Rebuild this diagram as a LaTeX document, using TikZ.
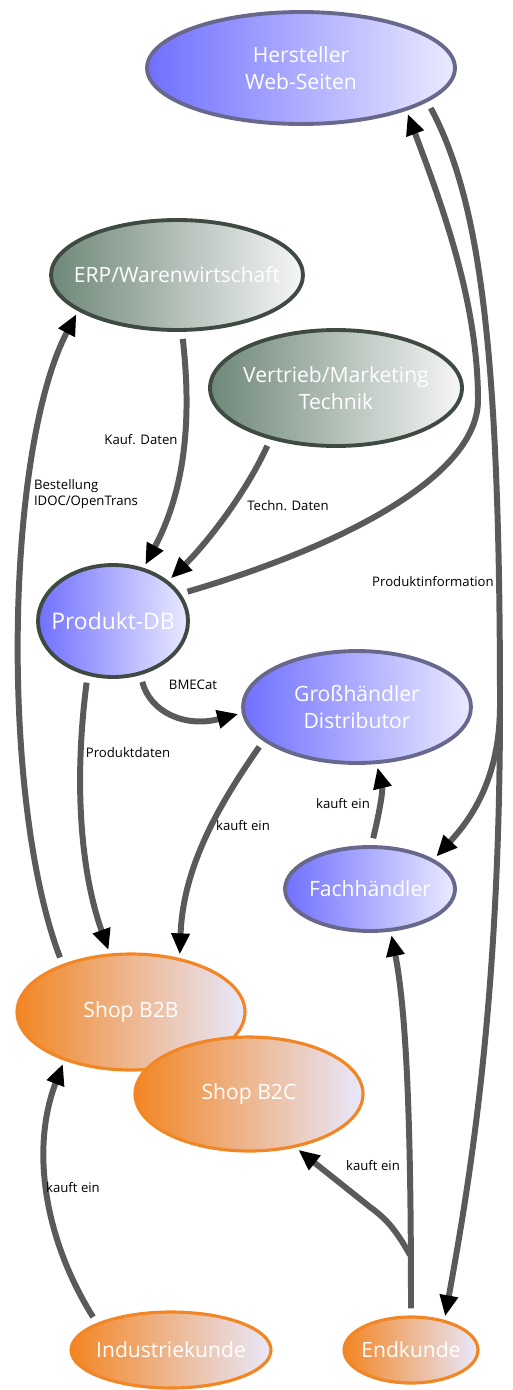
\documentclass[tikz,border=0pt]{standalone}
\usepackage{fontspec}
\setmainfont{Open Sans}
\usetikzlibrary{shapes.geometric, arrows.meta}

\definecolor{blueL}{RGB}{112,112,255}
\definecolor{blueR}{RGB}{234,234,255}
\definecolor{blueB}{RGB}{104,104,140}
\definecolor{greenL}{RGB}{110,136,120}
\definecolor{greenR}{RGB}{246,246,246}
\definecolor{greenB}{RGB}{62,74,66}
\definecolor{orangeL}{RGB}{242,134,36}
\definecolor{orangeR}{RGB}{232,232,252}
\definecolor{orangeB}{RGB}{242,134,36}
\definecolor{lineC}{RGB}{90,90,90}

\begin{document}
\begin{tikzpicture}[x=0.02cm, y=-0.02cm,
    nodetext/.style={text=white, align=center, font=\fontsize{12}{15}\selectfont},
    blob/.style={ellipse, inner sep=0pt, line width=2.2pt},
    bluenode/.style={blob, draw=blueB, left color=blueL, right color=blueR},
    greennode/.style={blob, draw=greenB, left color=greenL, right color=greenR},
    orangenode/.style={blob, draw=orangeB, line width=1.8pt, left color=orangeL, right color=orangeR},
    flow/.style={draw=lineC, line width=3.4pt, shorten <=4pt, shorten >=2pt,
        -{Triangle[length=12pt, width=10pt, color=black]}},
    lbl/.style={font=\fontsize{7.5}{9.5}\selectfont, text=black, inner sep=0pt}
]
    \useasboundingbox (0,0) rectangle (512,1390);

    % Hersteller (top)
    \node[bluenode, minimum width=6.16cm, minimum height=2.24cm,
        label={[nodetext]center:Hersteller\\Web-Seiten}] (herst) at (301,68) {};

    % ERP and Vertrieb
    \node[greennode, minimum width=5.04cm, minimum height=2.2cm,
        label={[nodetext]center:ERP/Warenwirtschaft}] (erp) at (177,275) {};
    \node[greennode, minimum width=5.04cm, minimum height=2.32cm,
        label={[nodetext]center:Vertrieb/Marketing\\Technik}] (vertr) at (336,388) {};

    % Produkt-DB
    \node[bluenode, draw=greenB, minimum width=3.0cm, minimum height=2.24cm,
        label={[nodetext, font=\fontsize{13}{15}\selectfont]center:Produkt-DB}] (pdb) at (113,621) {};

    % Handel
    \node[bluenode, minimum width=4.56cm, minimum height=2.24cm,
        label={[nodetext]center:Großhändler\\Distributor}] (gross) at (357,707) {};
    \node[bluenode, minimum width=3.4cm, minimum height=1.68cm,
        label={[nodetext]center:Fachhändler}] (fach) at (370,889) {};

    % Shops
    \node[orangenode, minimum width=4.56cm, minimum height=2.32cm,
        label={[nodetext]center:Shop B2B}] (shopb) at (131,1012) {};
    \node[orangenode, minimum width=4.56cm, minimum height=2.28cm,
        label={[nodetext]center:Shop B2C}] (shopc) at (249,1094) {};

    % Kunden
    \node[orangenode, minimum width=4.0cm, minimum height=1.52cm,
        label={[nodetext]center:Industriekunde}] (indu) at (171,1350) {};
    \node[orangenode, minimum width=2.68cm, minimum height=1.32cm,
        label={[nodetext]center:Endkunde}] (endk) at (411,1350) {};

    % branch points
    \coordinate (split) at (500,705);
    \coordinate (splitb) at (410,1255);

    % Bestellung
    \draw[flow] (shopb.145) .. controls (0,800) and (5,450) .. (erp.200);
    \node[lbl, align=left] (lbest) at (86,494) {Bestellung\\IDOC/OpenTrans};

    % Kauf. Daten
    \draw[flow] (erp.-85) .. controls (192,420) and (185,490) .. (pdb.60);
    \node[lbl] (lkauf) at (141,440) {Kauf. Daten};

    % Techn. Daten
    \draw[flow] (vertr.218) .. controls (245,495) and (205,545) .. (pdb.36);
    \node[lbl] (ltech) at (288,506) {Techn. Daten};

    % Produktinformation
    \draw[flow] (pdb.22) .. controls (330,550) and (478,480) .. (478,400)
        .. controls (478,300) and (440,200) .. (herst.-22);
    \draw[flow] (herst.-15) .. controls (480,200) and (500,350) .. (split)
        .. controls (500,1000) and (470,1180) .. (endk.42);
    \draw[flow, shorten <=0pt] (split) .. controls (500,780) and (470,820) .. (fach.25);
    \node[lbl] (lprod) at (433,582) {Produktinformation};

    % BMECat
    \draw[flow] (pdb.-63) .. controls (150,712) and (185,728) .. (gross.183);
    \node[lbl] (lbme) at (193,685) {BMECat};

    % Produktdaten
    \draw[flow] (pdb.-115) .. controls (74,780) and (80,870) .. (shopb.110);
    \node[lbl] (lpdat) at (128,753) {Produktdaten};

    % kauft ein
    \draw[flow] (gross.200) .. controls (215,810) and (183,870) .. (shopb.48);
    \node[lbl] (lk1) at (243,826) {kauft ein};
    \draw[flow] (fach.88) .. controls (380,810) and (383,790) .. (gross.-71);
    \node[lbl] (lk2) at (343,804) {kauft ein};
    \draw[flow] (endk.north) .. controls (411,1150) and (408,1020) .. (fach.-64);
    \draw[flow, shorten <=0pt] (splitb) .. controls (395,1228) and (385,1218) .. (370,1207) -- (shopc.-49);
    \node[lbl] (lk3) at (373,1166) {kauft ein};
    \draw[flow] (indu.160) .. controls (45,1240) and (30,1150) .. (shopb.216);
    \node[lbl] (lk4) at (73,1188) {kauft ein};
\end{tikzpicture}
\end{document}
